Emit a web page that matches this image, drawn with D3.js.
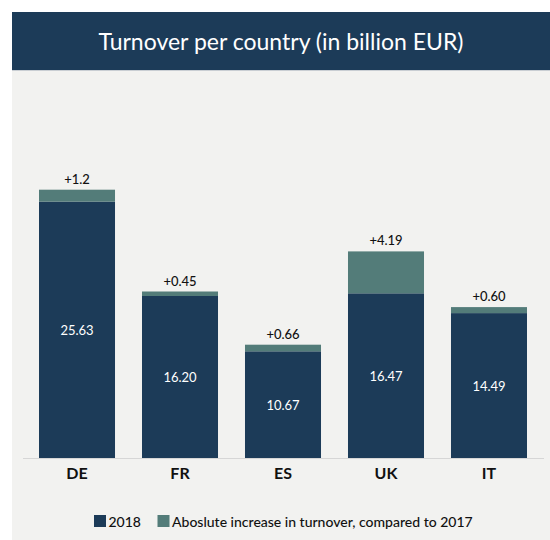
<!DOCTYPE html>
<html>
<head>
<meta charset="utf-8">
<script src="https://cdn.jsdelivr.net/npm/d3@7"></script>
<style>
  body { margin: 0; background: #fff; }
  svg { display: block; font-family: Lato, "Open Sans", sans-serif; }
</style>
</head>
<body>
<div class="chart-box"></div>
<script>
let countries = ['DE', 'FR', 'ES', 'UK', 'IT'];
let values2018 = [25.63, 16.20, 10.67, 16.47, 14.49];
let increases = [1.2, 0.45, 0.66, 4.19, 0.60];
let valueLabels = ['25.63', '16.20', '10.67', '16.47', '14.49'];
let increaseLabels = ['+1.2', '+0.45', '+0.66', '+4.19', '+0.60'];
let legendLabels = ['2018', 'Aboslute increase in turnover, compared to 2017'];

let width = 550, height = 540;
let navy = '#1c3b58', teal = '#537c79';

let svg = d3.select('.chart-box')
  .append('svg')
  .attr('width', width)
  .attr('height', height);

// panel background
svg.append('rect')
  .attr('x', 12).attr('y', 12)
  .attr('width', width - 12).attr('height', height - 12)
  .attr('fill', '#f2f2f0');

// header
svg.append('rect')
  .attr('x', 12).attr('y', 12)
  .attr('width', width - 12).attr('height', 58)
  .attr('fill', navy);
svg.append('line')
  .attr('x1', 12).attr('x2', width)
  .attr('y1', 70.5).attr('y2', 70.5)
  .attr('stroke', '#c9ced3');

svg.append('text')
  .attr('x', (12 + width) / 2)
  .attr('y', 41)
  .attr('text-anchor', 'middle')
  .attr('dominant-baseline', 'central')
  .attr('fill', '#fff')
  .style('font-size', '23px')
  .style('font-weight', 400)
  .text('Turnover per country (in billion EUR)');

let x = d3.scaleBand()
  .domain(countries)
  .range([39, 527])
  .paddingInner(0.262)
  .paddingOuter(0);

let y = d3.scaleLinear()
  .domain([0, 27.8])
  .range([458, 180]);

let data = countries.map(function (c, i) {
  return { c: c, v: values2018[i], inc: increases[i], vl: valueLabels[i], il: increaseLabels[i] };
});

let bars = svg.append('g').selectAll('g')
  .data(data)
  .enter()
  .append('g');

// 2018
bars.append('rect')
  .attr('x', function (d) { return x(d.c); })
  .attr('width', x.bandwidth())
  .attr('y', function (d) { return y(d.v); })
  .attr('height', function (d) { return y(0) - y(d.v); })
  .attr('fill', navy);

// increase
bars.append('rect')
  .attr('x', function (d) { return x(d.c); })
  .attr('width', x.bandwidth())
  .attr('y', function (d) { return y(d.v + d.inc); })
  .attr('height', function (d) { return y(d.v) - y(d.v + d.inc); })
  .attr('fill', teal);

// value labels
bars.append('text')
  .attr('x', function (d) { return x(d.c) + x.bandwidth() / 2; })
  .attr('y', function (d) { return (y(d.v) + y(0)) / 2; })
  .attr('text-anchor', 'middle')
  .attr('dominant-baseline', 'central')
  .attr('fill', '#fff')
  .style('font-size', '13px')
  .text(function (d) { return d.vl; });

bars.append('text')
  .attr('x', function (d) { return x(d.c) + x.bandwidth() / 2; })
  .attr('y', function (d) { return y(d.v + d.inc) - 11; })
  .attr('text-anchor', 'middle')
  .attr('dominant-baseline', 'central')
  .attr('fill', '#111')
  .style('font-size', '13px')
  .style('font-weight', 500)
  .text(function (d) { return d.il; });

// x axis
let xAxis = svg.append('g')
  .attr('transform', 'translate(0,' + y(0) + ')')
  .call(d3.axisBottom(x).tickSize(0).tickPadding(10));
xAxis.select('.domain').remove();
xAxis.append('line')
  .attr('x1', 23).attr('x2', 544)
  .attr('y1', 0.5).attr('y2', 0.5)
  .attr('stroke', '#d6d6d6');
xAxis.selectAll('text')
  .attr('fill', '#111')
  .style('font-family', 'Lato, sans-serif')
  .style('font-size', '16px')
  .style('font-weight', 'bold');

// legend
let legend = svg.append('g').attr('transform', 'translate(0,521)');
let legendX = [94, 157.5];
let legendColors = [navy, teal];
legendLabels.forEach(function (l, i) {
  legend.append('rect')
    .attr('x', legendX[i]).attr('y', -6)
    .attr('width', 12).attr('height', 12)
    .attr('fill', legendColors[i]);
  legend.append('text')
    .attr('x', legendX[i] + 14.5)
    .attr('y', 0)
    .attr('dominant-baseline', 'central')
    .attr('fill', '#111')
    .style('font-size', '14px')
    .style('font-weight', 500)
    .text(l);
});
</script>
</body>
</html>
